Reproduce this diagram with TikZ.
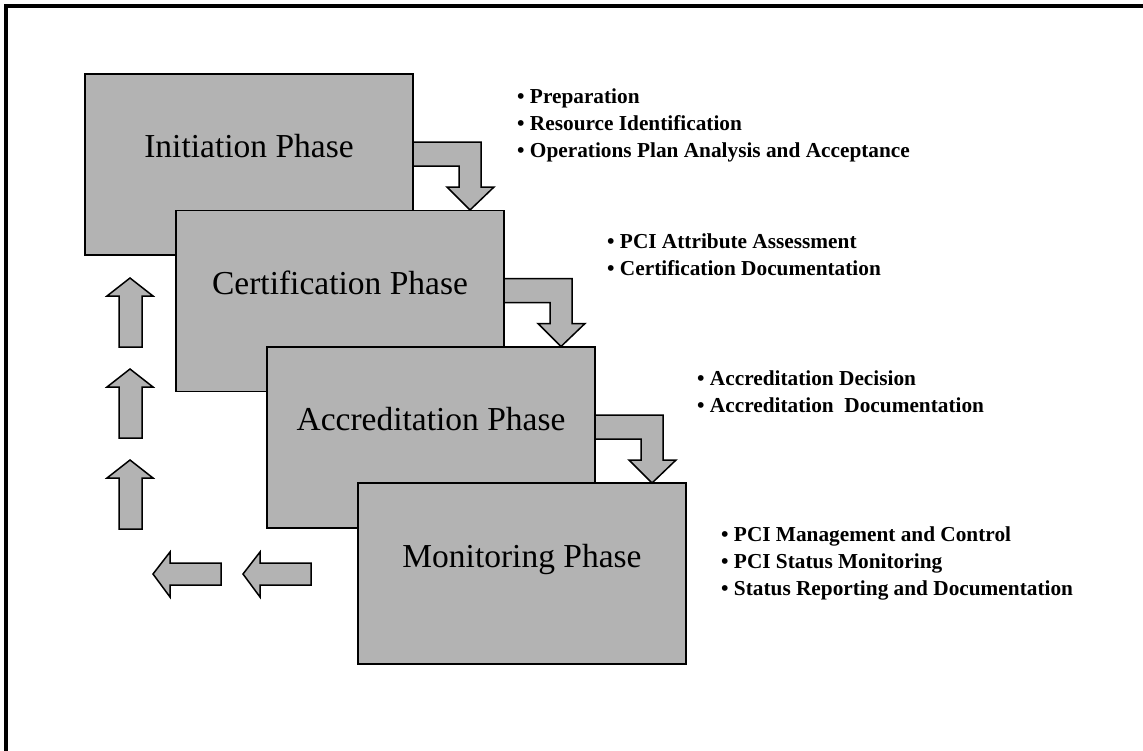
\documentclass[tikz,border=0pt]{standalone}
\usepackage{fontspec}
\setmainfont{Liberation Serif}
\usetikzlibrary{calc}
\definecolor{boxgray}{RGB}{179,179,179}
\tikzset{
  phasebox/.style={draw=black, fill=boxgray, line width=1.5pt, minimum width=328pt, minimum height=181pt, outer sep=0pt, inner sep=0pt},
  phasetitle/.style={font=\fontsize{33.5}{40}\selectfont, inner sep=0pt, anchor=base},
  bullets/.style={font=\bfseries\fontsize{21.3}{27}\selectfont, align=left, inner sep=0pt, anchor=base west},
  blockarrow/.style={draw=black, fill=boxgray, line width=1.5pt, line join=miter},
  frameline/.style={draw=black, line width=4pt}
}
\begin{document}
\begin{tikzpicture}[x=1pt,y=-1pt]
\useasboundingbox (0,0) rectangle (1143,750);
\fill[white] (0,0) rectangle (1143,750);
\draw[frameline] (6,760) -- (6,6) -- (1160,6);

% phase boxes
\node[phasebox] (b1) at (249,164.5) {};
\node[phasebox] (b2) at (340,301) {};
\node[phasebox] (b3) at (431,437.5) {};
\node[phasebox] (b4) at (522,573.5) {};
\node[phasetitle] (t1) at (249,157) {Initiation Phase};
\node[phasetitle] (t2) at (340,294) {Certification Phase};
\node[phasetitle] (t3) at (431,430) {Accreditation Phase};
\node[phasetitle] (t4) at (522,567) {Monitoring Phase};

% bent arrows between phases
\foreach \b in {b1,b2,b3}{
  \draw[blockarrow] ($(\b.north east)+(0,68)$) -- ++(68,0) -- ++(0,45) -- ++(13,0)
     -- ++(-24,23) -- ++(-23,-23) -- ++(12,0) -- ++(0,-21) -- ++(-46,0) -- cycle;
}

% up arrows
\foreach \dy in {0,91,182}{
  \draw[blockarrow] (119,347+\dy) -- (119,296+\dy) -- (107,296+\dy) -- (130,278+\dy)
     -- (153,296+\dy) -- (142,296+\dy) -- (142,347+\dy) -- cycle;
}
% left arrows
\foreach \dx in {0,90}{
  \draw[blockarrow] (221+\dx,563) -- (170+\dx,563) -- (170+\dx,552) -- (153+\dx,574)
     -- (170+\dx,597) -- (170+\dx,585) -- (221+\dx,585) -- cycle;
}

% bullet lists (anchored at baseline of last line)
\node[bullets] (l1) at (517,157) {\textbullet\ Preparation\\\textbullet\ Resource Identification\\\textbullet\ Operations Plan Analysis and Acceptance};
\node[bullets] (l2) at (607,275) {\textbullet\ PCI Attribute Assessment\\\textbullet\ Certification Documentation};
\node[bullets] (l3) at (697,412) {\textbullet\ Accreditation Decision\\\textbullet\ Accreditation\ \ Documentation};
\node[bullets] (l4) at (721,595) {\textbullet\ PCI Management and Control\\\textbullet\ PCI Status Monitoring\\\textbullet\ Status Reporting and Documentation};
\end{tikzpicture}
\end{document}
